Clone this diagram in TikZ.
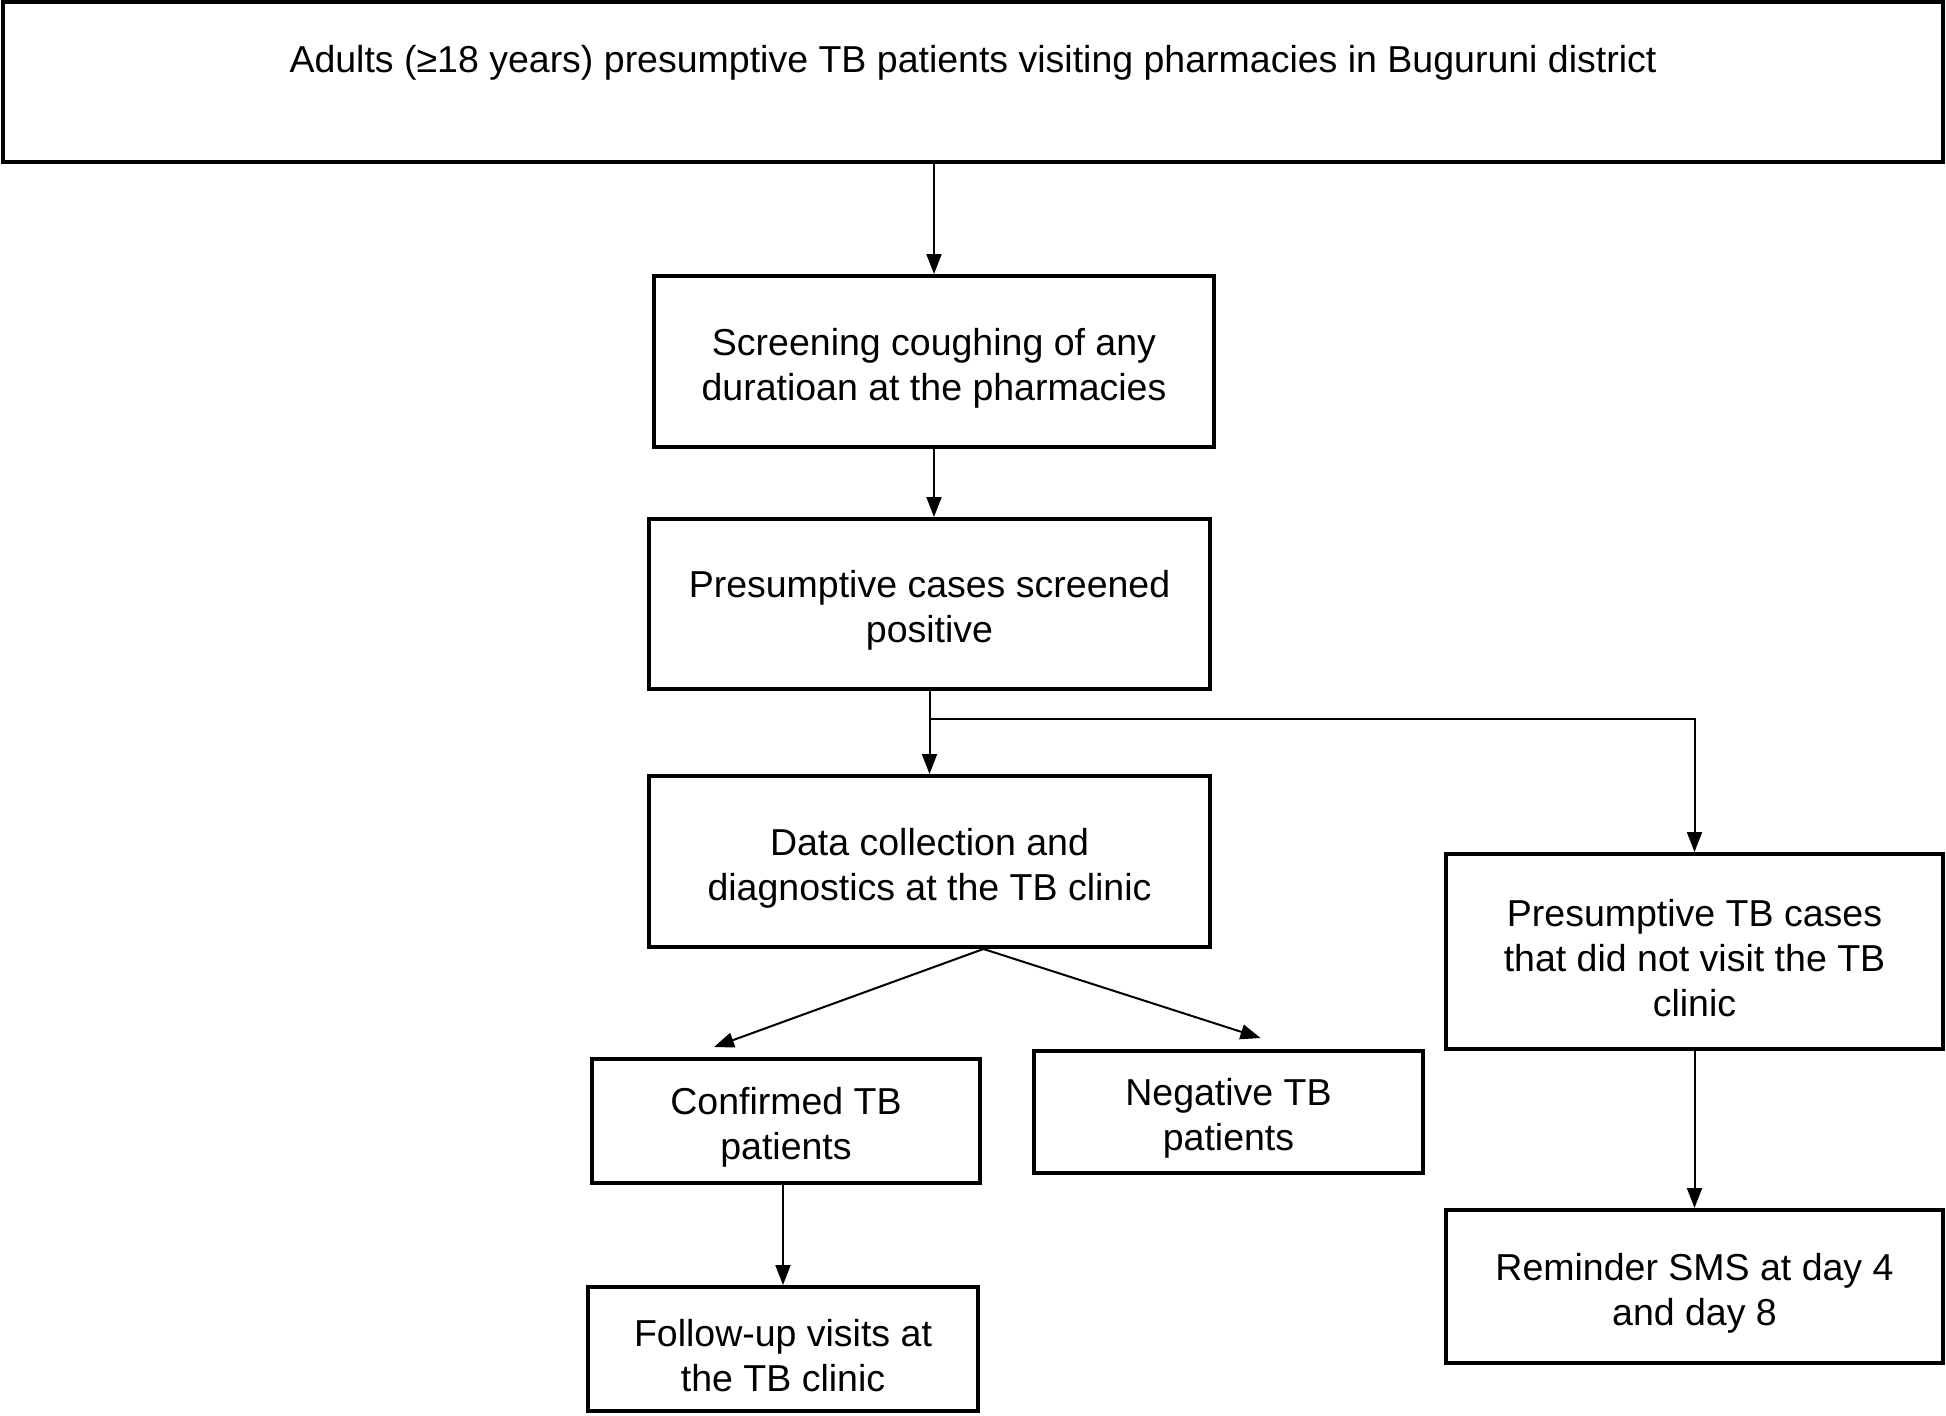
\documentclass[tikz,border=0pt]{standalone}
\usepackage{fontspec}
\setmainfont{Liberation Sans}
\usetikzlibrary{positioning,calc,arrows.meta}
\newcommand{\lowr}{\rule{0pt}{40pt}}
\tikzstyle{block} = [draw, rectangle, line width=4pt, inner sep=0pt, align=center, font=\fontsize{37.5}{45}\selectfont]
\tikzstyle{to} = [-{Triangle[length=20pt,width=15pt]}, line width=2pt]

\begin{document}
\begin{tikzpicture}[x=1pt,y=-1pt]
	\useasboundingbox (0,0) rectangle (1946,1416);
	\node (adults) [block, minimum width=1940pt, minimum height=160pt] at (973,82) {\lowr Adults (≥18 years) presumptive TB patients visiting pharmacies in Buguruni district\\ \strut};
	\node (screen) [block, minimum width=560pt, minimum height=171pt] at (934,361.5) {\lowr Screening coughing of any\\ duratioan at the pharmacies};
	\node (pos) [block, minimum width=561pt, minimum height=170pt] at (929.5,604) {\lowr Presumptive cases screened\\ positive};
	\node (data) [block, minimum width=561pt, minimum height=171pt] at (929.5,861.5) {\lowr Data collection and\\ diagnostics at the TB clinic};
	\node (novisit) [block, minimum width=497pt, minimum height=195pt] at (1694.5,951.5) {\lowr Presumptive TB cases\\ that did not visit the TB\\ clinic};
	\node (sms) [block, minimum width=497pt, minimum height=153pt] at (1694.5,1286.5) {\lowr Reminder SMS at day 4\\ and day 8};
	\node (conf) [block, minimum width=388pt, minimum height=124pt] at (786,1121) {\lowr Confirmed TB\\ patients};
	\node (neg) [block, minimum width=389pt, minimum height=122pt] at (1228.5,1112) {\lowr Negative TB\\ patients};
	\node (follow) [block, minimum width=390pt, minimum height=124pt] at (783,1349) {\lowr Follow-up visits at\\ the TB clinic};
	\coordinate (split) at ($(pos.south)+(0,28)$);
	\coordinate (fork) at ($(data.south)+(54,0)$);
	\coordinate (confin) at ($(conf.north)+(-72,-10)$);
	\coordinate (negin) at ($(neg.north)+(32,-11)$);
	\draw [to] (screen.north |- adults.south) -- (screen.north);
	\draw [to] (screen.south) -- (screen.south |- pos.north);
	\draw [to] (pos.south) -- (data.north);
	\draw [to] (split) -| (novisit.north);
	\draw [to] (fork) -- (confin);
	\draw [to] (fork) -- (negin);
	\draw [to] (conf.south -| follow.north) -- (follow.north);
	\draw [to] (novisit.south) -- (sms.north);
\end{tikzpicture}
\end{document}
